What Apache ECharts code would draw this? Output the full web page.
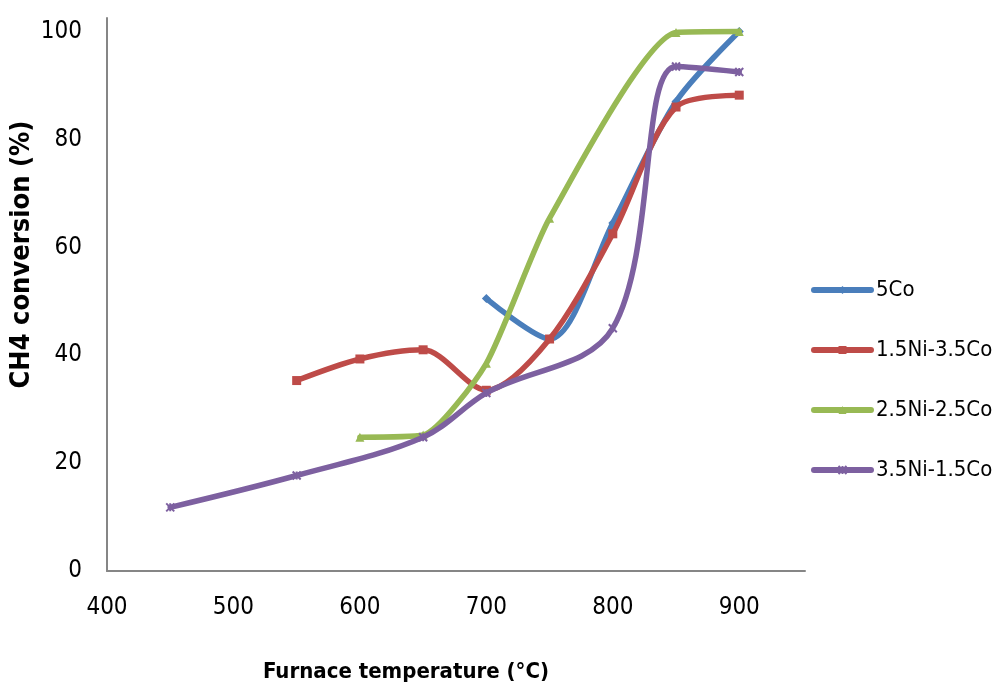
<!DOCTYPE html>
<html>
<head>
<meta charset="utf-8">
<script src="https://cdn.jsdelivr.net/npm/echarts@6/dist/echarts.min.js"></script>
<style>
html,body{margin:0;padding:0;background:#fff;}
#chart{width:998px;height:689px;}
</style>
</head>
<body>
<div id="chart"></div>
<script>
const seriesNames = ['5Co', '1.5Ni-3.5Co', '2.5Ni-2.5Co', '3.5Ni-1.5Co'];
const x5Co = [700, 750, 800, 850, 900];
const y5Co = [50.5, 43, 64.5, 87, 100];
const x15Ni = [550, 600, 650, 700, 750, 800, 850, 900];
const y15Ni = [35.3, 39.3, 41, 33.5, 43, 62.5, 86, 88.2];
const x25Ni = [600, 650, 700, 750, 850, 900];
const y25Ni = [24.8, 25.2, 38.5, 65.4, 99.8, 100];
const x35Ni = [450, 550, 650, 700, 800, 850, 900];
const y35Ni = [11.8, 17.7, 24.8, 33, 45, 93.5, 92.5];
const xTicks = [400, 500, 600, 700, 800, 900];
const yTicks = [0, 20, 40, 60, 80, 100];

const colors = ['#4A7EBB', '#BE4B48', '#98B954', '#7D60A0'];
const symbols = ['diamond', 'rect', 'triangle', 'path://M0,0 L10,10 M10,0 L0,10 M5,0 L5,10'];
const smoothing = [0.3, 0.3, 0.2, 0.35];
const xs = [x5Co, x15Ni, x25Ni, x35Ni];
const ys = [y5Co, y15Ni, y25Ni, y35Ni];

const font = '"DejaVu Sans Condensed", "Liberation Sans", sans-serif';

const chart = echarts.init(document.getElementById('chart'), null, {renderer: 'canvas'});
const option = {
  animation: false,
  backgroundColor: '#ffffff',
  color: colors,
  grid: {left: 107, right: 193, top: 18, bottom: 118, containLabel: false, outerBoundsMode: 'none'},
  legend: {
    orient: 'vertical',
    left: 806,
    top: 271,
    itemWidth: 57,
    itemHeight: 10,
    itemGap: 32,
    lineStyle: {width: 6},
    textStyle: {fontFamily: font, fontSize: 22, color: '#000', lineHeight: 28},
    data: seriesNames
  },
  xAxis: {
    type: 'value',
    min: 400,
    max: 952,
    interval: 100,
    name: 'Furnace temperature (°C)',
    nameLocation: 'middle',
    nameGap: 90,
    nameMoveOverlap: false,
    nameTextStyle: {fontFamily: font, fontWeight: 'bold', fontSize: 22, color: '#000', padding: [0, 100, 0, 0]},
    axisLine: {show: true, lineStyle: {color: '#868686', width: 2}},
    axisTick: {show: false},
    splitLine: {show: false},
    axisLabel: {
      fontFamily: font, fontSize: 24, color: '#000', margin: 25,
      showMaxLabel: false,
      formatter: v => xTicks.indexOf(v) >= 0 ? String(v) : ''
    }
  },
  yAxis: {
    type: 'value',
    min: 0,
    max: 102.5,
    interval: 20,
    name: 'CH4 conversion (%)',
    nameLocation: 'middle',
    nameGap: 72,
    nameMoveOverlap: false,
    nameRotate: 90,
    nameTextStyle: {fontFamily: font, fontWeight: 'bold', fontSize: 27, color: '#000', padding: [0, 0, 0, 80]},
    axisLine: {show: true, lineStyle: {color: '#868686', width: 2}},
    axisTick: {show: false},
    splitLine: {show: false},
    axisLabel: {
      fontFamily: font, fontSize: 24, color: '#000', margin: 25,
      showMaxLabel: false,
      formatter: v => yTicks.indexOf(v) >= 0 ? String(v) : ''
    }
  },
  series: seriesNames.map((name, i) => ({
    name: name,
    type: 'line',
    smooth: smoothing[i],
    data: xs[i].map((x, j) => [x, ys[i][j]]),
    symbol: symbols[i],
    symbolSize: i === 3 ? 8 : 9,
    showAllSymbol: true,
    lineStyle: {width: 5.5, color: colors[i], cap: 'round', join: 'round'},
    itemStyle: {color: colors[i], borderColor: colors[i], borderWidth: i === 3 ? 2 : 0},
    z: 2 + i
  }))
};
chart.setOption(option);
</script>
</body>
</html>
